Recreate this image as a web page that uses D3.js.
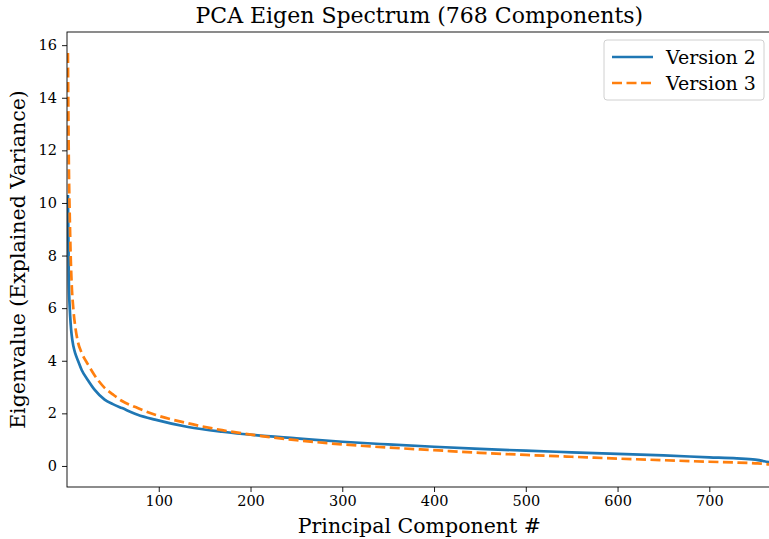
<!DOCTYPE html>
<html lang="en">
<head>
  <meta charset="UTF-8">
  <title>PCA Eigen Spectrum</title>
  <style>
    body { margin: 0; background: #fff; }
    svg text { font-family: "DejaVu Serif", serif; fill: #000; }
    .axis path, .axis line { stroke: #000; stroke-width: 0.9; }
    .axis text { font-size: 14.5px; }
  </style>
</head>
<body>
  <svg id="chart" width="769" height="539"></svg>

  <script src="https://d3js.org/d3.v7.min.js"></script>
  <script>
    const components = [1, 2, 3, 4, 5, 7, 9, 12, 16, 23, 30, 41, 50, 60, 77, 96, 132, 169, 205,
      250, 300, 350, 400, 450, 500, 550, 600, 650, 700, 730, 750, 760, 768];
    const version2 = [10.3, 7.0, 6.0, 5.4, 5.0, 4.55, 4.28, 4.0, 3.65, 3.25, 2.9, 2.52, 2.35, 2.2, 1.95, 1.76, 1.48, 1.3, 1.17,
      1.05, 0.92, 0.82, 0.73, 0.65, 0.58, 0.52, 0.46, 0.4, 0.33, 0.29, 0.24, 0.18, 0.12];
    const version3 = [15.7, 11.5, 9.5, 8.0, 7.0, 5.93, 5.3, 4.7, 4.3, 3.85, 3.45, 2.97, 2.72, 2.47, 2.2, 1.95, 1.62, 1.36, 1.17,
      0.98, 0.82, 0.7, 0.6, 0.5, 0.42, 0.35, 0.28, 0.22, 0.16, 0.13, 0.1, 0.08, 0.05];
    const seriesNames = ["Version 2", "Version 3"];
    const xTicks = [100, 200, 300, 400, 500, 600, 700];
    const yTicks = [0, 2, 4, 6, 8, 10, 12, 14, 16];

    const margin = { top: 32, left: 67, bottom: 52 };
    const plotRight = 771.7;   // axes runs slightly past the image edge
    const height = 539 - margin.top - margin.bottom;

    const svg = d3.select("#chart");

    const x = d3.scaleLinear().domain([0, 768]).range([margin.left, plotRight]);
    const y = d3.scaleLinear().domain([-0.8, 16.5]).range([margin.top + height, margin.top]);

    svg.append("defs").append("clipPath").attr("id", "clip")
      .append("rect")
      .attr("x", margin.left).attr("y", margin.top)
      .attr("width", plotRight - margin.left).attr("height", height);

    const line = (vals) => d3.line()
      .x((d, i) => x(components[i]))
      .y(d => y(d))
      .curve(d3.curveMonotoneX)(vals);

    const g = svg.append("g").attr("clip-path", "url(#clip)");

    g.append("path")
      .attr("d", line(version2))
      .attr("fill", "none")
      .attr("stroke", "#1f77b4")
      .attr("stroke-width", 2.7);

    g.append("path")
      .attr("d", line(version3))
      .attr("fill", "none")
      .attr("stroke", "#ff7f0e")
      .attr("stroke-width", 2.7)
      .attr("stroke-dasharray", "10,4.5");

    // axes
    svg.append("g")
      .attr("class", "axis")
      .attr("transform", `translate(0, ${margin.top + height})`)
      .call(d3.axisBottom(x).tickValues(xTicks).tickSize(5).tickPadding(4).tickSizeOuter(0))
      .call(a => a.select(".domain").remove());

    svg.append("g")
      .attr("class", "axis")
      .attr("transform", `translate(${margin.left}, 0)`)
      .call(d3.axisLeft(y).tickValues(yTicks).tickSize(5).tickPadding(5).tickSizeOuter(0))
      .call(a => a.select(".domain").remove());

    // frame
    svg.append("rect")
      .attr("x", margin.left).attr("y", margin.top)
      .attr("width", plotRight - margin.left).attr("height", height)
      .attr("fill", "none")
      .attr("stroke", "#000")
      .attr("stroke-width", 0.9);

    // title and labels
    svg.append("text")
      .attr("x", (margin.left + plotRight) / 2)
      .attr("y", 23)
      .attr("text-anchor", "middle")
      .style("font-size", "22px")
      .text("PCA Eigen Spectrum (768 Components)");

    svg.append("text")
      .attr("x", (margin.left + plotRight) / 2)
      .attr("y", 533)
      .attr("text-anchor", "middle")
      .style("font-size", "20.5px")
      .text("Principal Component #");

    svg.append("text")
      .attr("transform", `translate(25, ${margin.top + height / 2}) rotate(-90)`)
      .attr("text-anchor", "middle")
      .style("font-size", "20.5px")
      .text("Eigenvalue (Explained Variance)");

    // legend
    const legend = svg.append("g").attr("transform", "translate(604, 40)");
    legend.append("rect")
      .attr("width", 160).attr("height", 60)
      .attr("rx", 3)
      .attr("fill", "#fff")
      .attr("fill-opacity", 0.8)
      .attr("stroke", "#d0d0d0");

    const styles = [
      { color: "#1f77b4", dash: null },
      { color: "#ff7f0e", dash: "10,4.5" }
    ];
    seriesNames.forEach((name, i) => {
      const row = legend.append("g").attr("transform", `translate(0, ${17 + i * 26})`);
      row.append("line")
        .attr("x1", 8).attr("x2", 49)
        .attr("stroke", styles[i].color)
        .attr("stroke-width", 2.7)
        .attr("stroke-dasharray", styles[i].dash);
      row.append("text")
        .attr("x", 62).attr("y", 6.5)
        .style("font-size", "19px")
        .text(name);
    });
  </script>
</body>
</html>
